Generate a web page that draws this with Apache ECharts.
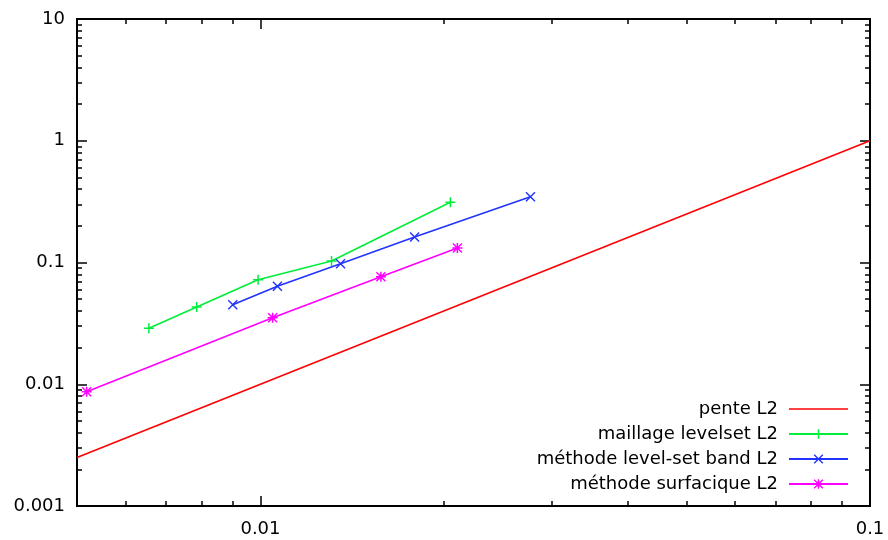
<!DOCTYPE html>
<html><head><meta charset="utf-8">
<script src="https://cdn.jsdelivr.net/npm/echarts@6/dist/echarts.min.js"></script>
<style>html,body{margin:0;padding:0;background:#fff}#c{width:888px;height:540px}</style>
</head><body><div id="c"></div>
<script>
// ---- data ----
const xRange = [0.005, 0.1];
const yRange = [0.001, 10];
const xMajorTicks = [0.01, 0.1];
const xTickLabels = ['0.01', '0.1'];
const yMajorTicks = [0.001, 0.01, 0.1, 1, 10];
const yTickLabels = ['0.001', '0.01', '0.1', '1', '10'];

const seriesNames = ['pente L2', 'maillage levelset L2', 'méthode level-set band L2', 'méthode surfacique L2'];

const penteX = [0.005, 0.1];
const penteY = [0.0025, 1];
const maillageX = [0.00656, 0.00786, 0.00991, 0.01308, 0.02049];
const maillageY = [0.0288, 0.0431, 0.0722, 0.1029, 0.3122];
const bandX = [0.009006, 0.01066, 0.01353, 0.01790, 0.02773];
const bandY = [0.0450, 0.06375, 0.0977, 0.1620, 0.3471];
const surfX = [0.005186, 0.01047, 0.01576, 0.02104];
const surfY = [0.008685, 0.03521, 0.07644, 0.1315];

// ---- helpers ----
const L = Math.log10;
function minorTicks(lo, hi) {
  const out = [];
  for (let d = Math.floor(L(lo)); d < Math.ceil(L(hi)); d++) {
    for (let k = 2; k <= 9; k++) {
      const v = k * Math.pow(10, d);
      if (v > lo * 1.0001 && v < hi * 0.9999) out.push(L(v));
    }
  }
  return out;
}
function pairs(xs, ys) { return xs.map((x, i) => [L(x), L(ys[i])]); }

const FONT = 'DejaVu Sans';
function mkAxis(range, pos, ticks, len, labelTicks, labelTexts, margin) {
  const ax = {
    type: 'value', position: pos, min: L(range[0]), max: L(range[1]),
    axisLine: { show: false, onZero: false },
    splitLine: { show: false },
    axisTick: { show: true, inside: true, length: len, customValues: ticks,
      lineStyle: { color: '#000', width: 1.5 } },
    axisLabel: { show: false }
  };
  if (labelTicks) {
    ax.axisLabel = {
      show: true, customValues: labelTicks.map(L), margin: margin,
      fontSize: 18, fontFamily: FONT, color: '#000',
      formatter: function (v) {
        const i = labelTicks.findIndex(t => Math.abs(L(t) - v) < 1e-6);
        return i >= 0 ? labelTexts[i] : '';
      }
    };
  }
  return ax;
}

const xMaj = xMajorTicks.map(L), xMin = minorTicks(xRange[0], xRange[1]);
const yMaj = yMajorTicks.map(L), yMin = minorTicks(yRange[0], yRange[1]);

const plusPath = 'path://M-1.5,-10 L1.5,-10 L1.5,10 L-1.5,10 Z M-10,-1.5 L10,-1.5 L10,1.5 L-10,1.5 Z';
const crossPath = 'path://M-10,-8 L-8,-10 L10,8 L8,10 Z M10,-8 L-8,10 L-10,8 L8,-10 Z';
const starPath = 'path://M-1.5,-10 L1.5,-10 L1.5,10 L-1.5,10 Z M-10,-1.5 L10,-1.5 L10,1.5 L-10,1.5 Z M-10,-8 L-8,-10 L10,8 L8,10 Z M10,-8 L-8,10 L-10,8 L8,-10 Z';
const lineIcon = 'path://M0,0 L59,0 L59,1.6 L0,1.6 Z';

const colors = ['#ff0000', '#00ee3a', '#2233ff', '#ff00ff'];
const LW = 1.6;

const option = {
  animation: false,
  backgroundColor: '#fff',
  grid: { left: 77, right: 18, top: 19, bottom: 34, show: true, borderColor: '#000', borderWidth: 2,
          backgroundColor: 'transparent', outerBoundsMode: 'none', containLabel: false },
  xAxis: [
    mkAxis(xRange, 'bottom', xMaj, 10, xMajorTicks, xTickLabels, 14),
    mkAxis(xRange, 'bottom', xMin, 5),
    mkAxis(xRange, 'top', xMaj, 10),
    mkAxis(xRange, 'top', xMin, 5)
  ],
  yAxis: [
    mkAxis(yRange, 'left', yMaj, 10, yMajorTicks, yTickLabels, 12),
    mkAxis(yRange, 'left', yMin, 5),
    mkAxis(yRange, 'right', yMaj, 10),
    mkAxis(yRange, 'right', yMin, 5)
  ],
  legend: {
    orient: 'vertical', align: 'right', right: 39, top: 400, padding: 0,
    itemWidth: 59, itemHeight: 12, itemGap: 7, selectedMode: false,
    textStyle: { fontSize: 18, fontFamily: FONT, color: '#000', lineHeight: 18, padding: [0, 6, 0, 0] },
    data: [{ name: seriesNames[0], icon: lineIcon }, seriesNames[1], seriesNames[2], seriesNames[3]]
  },
  series: [
    { name: seriesNames[0], type: 'line', data: pairs(penteX, penteY), symbol: 'none',
      lineStyle: { color: colors[0], width: LW }, itemStyle: { color: colors[0] } },
    { name: seriesNames[1], type: 'line', data: pairs(maillageX, maillageY), symbol: plusPath, symbolSize: 10,
      lineStyle: { color: colors[1], width: LW }, itemStyle: { color: colors[1] } },
    { name: seriesNames[2], type: 'line', data: pairs(bandX, bandY), symbol: crossPath, symbolSize: 10,
      lineStyle: { color: colors[2], width: LW }, itemStyle: { color: colors[2] } },
    { name: seriesNames[3], type: 'line', data: pairs(surfX, surfY), symbol: starPath, symbolSize: 10,
      lineStyle: { color: colors[3], width: LW }, itemStyle: { color: colors[3] } }
  ]
};
echarts.init(document.getElementById('c'), null, { renderer: 'canvas' }).setOption(option);
</script>
</body></html>
